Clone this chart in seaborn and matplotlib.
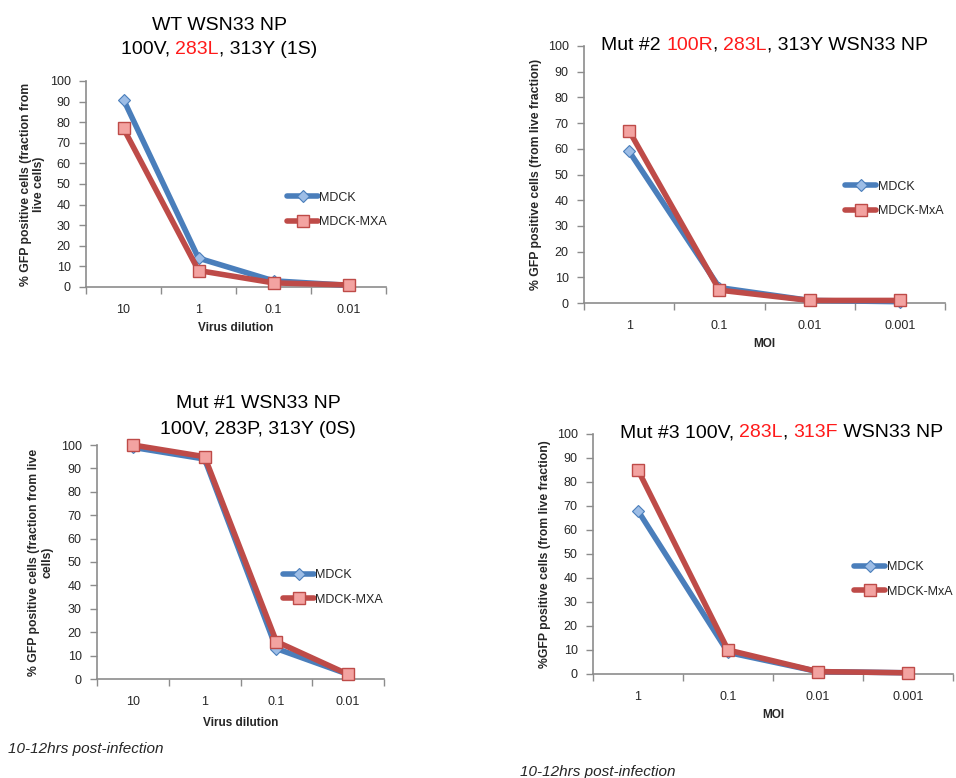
import numpy as np
import matplotlib
matplotlib.use("Agg")
import matplotlib.pyplot as plt
import seaborn as sns

# ---------------- data ----------------
dilution_labels = ["10", "1", "0.1", "0.01"]
moi_labels = ["1", "0.1", "0.01", "0.001"]

wt_mdck = [91, 14, 3, 0.8]
wt_mxa = [77, 8, 2, 1]

mut1_mdck = [99, 94, 13, 2]
mut1_mxa = [100, 95, 16, 2]

mut2_mdck = [59, 6, 1, 0.5]
mut2_mxa = [67, 5, 1, 1]

mut3_mdck = [68, 9, 1, 0.5]
mut3_mxa = [85, 10, 1, 0.5]

series_names_a = ["MDCK", "MDCK-MXA"]
series_names_b = ["MDCK", "MDCK-MxA"]

RED = "#FF1A1A"
BLK = "black"
titles = {
    "wt": [[("WT WSN33 NP", BLK)],
           [("100V, ", BLK), ("283L", RED), (", 313Y (1S)", BLK)]],
    "mut1": [[("Mut #1 WSN33 NP", BLK)],
             [("100V, 283P, 313Y (0S)", BLK)]],
    "mut2": [[("Mut #2 ", BLK), ("100R", RED), (", ", BLK), ("283L", RED),
              (", 313Y WSN33 NP", BLK)]],
    "mut3": [[("Mut #3 100V, ", BLK), ("283L", RED), (", ", BLK), ("313F", RED),
              (" WSN33 NP", BLK)]],
}

# ---------------- style ----------------
sns.set_theme(style="white")
plt.rcParams['font.family'] = ['Liberation Sans', 'DejaVu Sans']

W, H = 956, 778
fig = plt.figure(figsize=(W / 100, H / 100), dpi=100)

BLUE_LINE = "#4A7EBB"
BLUE_FACE = "#9DBDE6"
RED_LINE = "#BE4B48"
RED_FACE = "#F3A3A1"
AXC = "#8C8C8C"


def px_axes(l, t, r, b):
    return fig.add_axes([l / W, 1 - b / H, (r - l) / W, (b - t) / H])


def panel(ax, labels, mdck, mxa, names, ylabel, xlabel, ylab_x, xlab_y, leg_xy):
    pos = np.arange(len(labels))
    sns.lineplot(x=pos, y=mdck, ax=ax, color=BLUE_LINE, linewidth=4.0,
                 marker="D", markersize=6.5, markerfacecolor=BLUE_FACE,
                 markeredgecolor=BLUE_LINE, markeredgewidth=0.8,
                 label=names[0], clip_on=False, zorder=3)
    sns.lineplot(x=pos, y=mxa, ax=ax, color=RED_LINE, linewidth=4.0,
                 marker="s", markersize=8.2, markerfacecolor=RED_FACE,
                 markeredgecolor=RED_LINE, markeredgewidth=1.0,
                 label=names[1], clip_on=False, zorder=4)
    n = len(labels)
    ax.set_xlim(-0.5, n - 0.5)
    ax.set_ylim(0, 100)
    ax.set_yticks(np.arange(0, 101, 10))
    ax.set_xticks(np.arange(n + 1) - 0.5)
    ax.set_xticklabels([])
    ax.set_xticks(pos, minor=True)
    ax.set_xticklabels(labels, minor=True)
    ax.tick_params(axis="x", which="minor", length=0, pad=12, labelsize=9)
    ax.tick_params(axis="x", which="major", length=5, width=1, color=AXC,
                   direction="out", bottom=True)
    ax.tick_params(axis="y", length=5, width=1, color=AXC, direction="out",
                   pad=6, labelsize=9, left=True)
    for s in ["top", "right"]:
        ax.spines[s].set_visible(False)
    for s in ["left", "bottom"]:
        ax.spines[s].set_color(AXC)
        ax.spines[s].set_linewidth(1.2)
    ax.grid(False)
    ax.set_ylabel(ylabel, fontsize=8.8, fontweight="bold", linespacing=1.1)
    ax.yaxis.set_label_coords(ylab_x, 0.5)
    ax.set_xlabel(xlabel, fontsize=8.5, fontweight="bold")
    ax.xaxis.set_label_coords(0.5, xlab_y)
    ax.legend(loc="center left", bbox_to_anchor=leg_xy, frameon=False,
              borderaxespad=0, borderpad=0, handlelength=2.5,
              handletextpad=0.1, labelspacing=1.0, fontsize=9)


ax1 = px_axes(86, 81, 386, 287)
panel(ax1, dilution_labels, wt_mdck, wt_mxa, series_names_a,
      "% GFP positive cells (fraction from\nlive cells)", "Virus dilution",
      -0.137, -0.17, (0.67, 0.374))

ax2 = px_axes(584, 46, 945, 303)
panel(ax2, moi_labels, mut2_mdck, mut2_mxa, series_names_b,
      "% GFP positive cells (from live fraction)", "MOI",
      -0.116, -0.136, (0.723, 0.405))

ax3 = px_axes(97, 445, 384, 679)
panel(ax3, dilution_labels, mut1_mdck, mut1_mxa, series_names_a,
      "% GFP positive cells (fraction from live\ncells)", "Virus dilution",
      -0.153, -0.162, (0.648, 0.391))

ax4 = px_axes(593, 434, 953, 674)
panel(ax4, moi_labels, mut3_mdck, mut3_mxa, series_names_b,
      "%GFP positive cells (from live fraction)", "MOI",
      -0.117, -0.146, (0.725, 0.394))

# ---------------- titles with coloured segments ----------------
renderer = fig.canvas.get_renderer()


def text_width(s, size):
    t1 = fig.text(0, 0, s + "|", fontsize=size)
    t2 = fig.text(0, 0, "|", fontsize=size)
    w = t1.get_window_extent(renderer).width - t2.get_window_extent(renderer).width
    t1.remove()
    t2.remove()
    return w


def colored_line(segments, x, baseline, align="center", size=14):
    full = "".join(s for s, _ in segments)
    total = text_width(full, size)
    x0 = x - total / 2 if align == "center" else x
    prefix = ""
    for s, c in segments:
        fig.text((x0 + text_width(prefix, size)) / W, 1 - baseline / H, s,
                 color=c, fontsize=size, ha="left", va="baseline")
        prefix += s


colored_line(titles["wt"][0], 219, 30)
colored_line(titles["wt"][1], 219, 54)
colored_line(titles["mut1"][0], 258, 408)
colored_line(titles["mut1"][1], 258, 434)
colored_line(titles["mut2"][0], 601, 50, align="left")
colored_line(titles["mut3"][0], 620, 437, align="left")

# ---------------- footnotes ----------------
fig.text(8 / W, 1 - 753 / H, "10-12hrs post-infection", fontsize=11,
         style="italic", ha="left", va="baseline")
fig.text(520 / W, 1 - 776 / H, "10-12hrs post-infection", fontsize=11,
         style="italic", ha="left", va="baseline")

fig.savefig("out.png", dpi=100)
